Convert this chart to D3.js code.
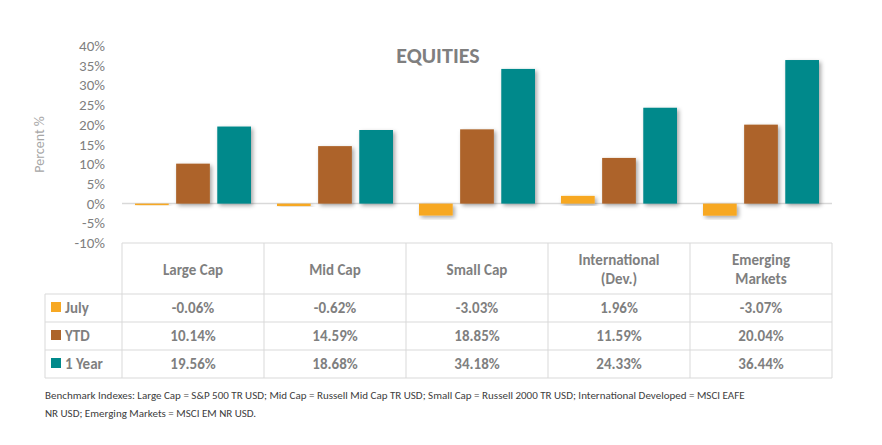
<!DOCTYPE html>
<html><head><meta charset="utf-8">
<script src="https://cdn.jsdelivr.net/npm/d3@7"></script>
<style>body{margin:0;background:#fff;font-family:Calibri,Carlito,"Open Sans",sans-serif}</style>
</head><body><svg id="chart"></svg>
<script>
const categories = ["Large Cap", "Mid Cap", "Small Cap", "International (Dev.)", "Emerging Markets"];
const headerLines = [["Large Cap"], ["Mid Cap"], ["Small Cap"], ["International", "(Dev.)"], ["Emerging", "Markets"]];
const seriesNames = ["July", "YTD", "1 Year"];
const july = [-0.06, -0.62, -3.03, 1.96, -3.07];
const ytd = [10.14, 14.59, 18.85, 11.59, 20.04];
const oneYear = [19.56, 18.68, 34.18, 24.33, 36.44];
const yTicks = [-10, -5, 0, 5, 10, 15, 20, 25, 30, 35, 40];
const colors = ["#F7A823", "#AD642A", "#00898B"];
const series = [july, ytd, oneYear];

const width = 882, height = 445;
const left = 122, right = 832;
const svg = d3.select("#chart").attr("width", width).attr("height", height);
const defs = svg.append("defs");
const f = defs.append("filter").attr("id", "sh").attr("x", "-20%").attr("y", "-20%").attr("width", "150%").attr("height", "150%");
f.append("feDropShadow").attr("dx", 2).attr("dy", 2).attr("stdDeviation", 2).attr("flood-opacity", 0.35);

const x = d3.scaleBand().domain(categories).range([left, right]);
const xs = d3.scaleBand().domain(seriesNames).range([13, 129]).paddingInner(0.18);
const y = d3.scaleLinear().domain([-10, 40]).range([243, 46]);

// y axis labels
svg.append("g").selectAll("text").data(yTicks).join("text")
  .attr("x", 105).attr("y", d => y(d) + 5).attr("text-anchor", "end")
  .attr("fill", "#7f7f7f").attr("font-size", 15).text(d => d + "%");
svg.append("text").attr("transform", "rotate(-90)").attr("x", -(y(15))).attr("y", 44)
  .attr("text-anchor", "middle").attr("fill", "#a6a6a6").attr("font-size", 14).text("Percent %");

// title
svg.append("text").attr("x", 438).attr("y", 63).attr("text-anchor", "middle")
  .attr("fill", "#7f7f7f").attr("font-size", 22).attr("font-weight", "bold").text("EQUITIES");

// zero line
svg.append("line").attr("x1", left).attr("x2", right).attr("y1", y(0)).attr("y2", y(0))
  .attr("stroke", "#d9d9d9").attr("stroke-width", 1.5);

// bars
series.forEach((vals, si) => {
  svg.append("g").selectAll("rect").data(vals).join("rect")
    .attr("x", (d, i) => x(categories[i]) + xs(seriesNames[si]))
    .attr("width", xs.bandwidth())
    .attr("y", d => y(Math.max(0, d)))
    .attr("height", d => Math.max(1.5, Math.abs(y(d) - y(0))))
    .attr("fill", colors[si]).attr("filter", "url(#sh)");
});

// table
const rowY = [243, 294, 322, 350, 378];
const grid = svg.append("g").attr("stroke", "#d9d9d9").attr("stroke-width", 1);
grid.append("line").attr("x1", left).attr("x2", right).attr("y1", 243).attr("y2", 243);
rowY.slice(1).forEach(v => grid.append("line").attr("x1", 45).attr("x2", right).attr("y1", v).attr("y2", v));
categories.forEach(c => grid.append("line").attr("x1", x(c)).attr("x2", x(c)).attr("y1", 243).attr("y2", 378));
grid.append("line").attr("x1", right).attr("x2", right).attr("y1", 243).attr("y2", 378);
grid.append("line").attr("x1", 45).attr("x2", 45).attr("y1", 294).attr("y2", 378);

headerLines.forEach((lines, i) => {
  const cx = x(categories[i]) + x.bandwidth() / 2;
  const y0 = lines.length === 1 ? 275 : 265;
  lines.forEach((t, j) => svg.append("text").attr("x", cx).attr("y", y0 + j * 19)
    .attr("text-anchor", "middle").attr("fill", "#7f7f7f").attr("font-size", 15)
    .attr("font-weight", "bold").text(t));
});
series.forEach((vals, si) => {
  const ry = rowY[si + 1] + 19;
  svg.append("rect").attr("x", 51).attr("y", ry - 11).attr("width", 10).attr("height", 10).attr("fill", colors[si]);
  svg.append("text").attr("x", 65).attr("y", ry).attr("fill", "#7f7f7f").attr("font-size", 15)
    .attr("font-weight", "bold").text(seriesNames[si]);
  vals.forEach((v, i) => svg.append("text").attr("x", x(categories[i]) + x.bandwidth() / 2).attr("y", ry)
    .attr("text-anchor", "middle").attr("fill", "#7f7f7f").attr("font-size", 15)
    .attr("font-weight", "bold").text(v.toFixed(2) + "%"));
});

// footnote
const notes = ["Benchmark Indexes: Large Cap = S&P 500 TR USD; Mid Cap = Russell Mid Cap TR USD; Small Cap = Russell 2000 TR USD; International Developed = MSCI EAFE",
  "NR USD; Emerging Markets = MSCI EM NR USD."];
notes.forEach((t, i) => svg.append("text").attr("x", 45).attr("y", 399 + i * 18)
  .attr("fill", "#404040").attr("font-size", 11).text(t));
</script></body></html>
